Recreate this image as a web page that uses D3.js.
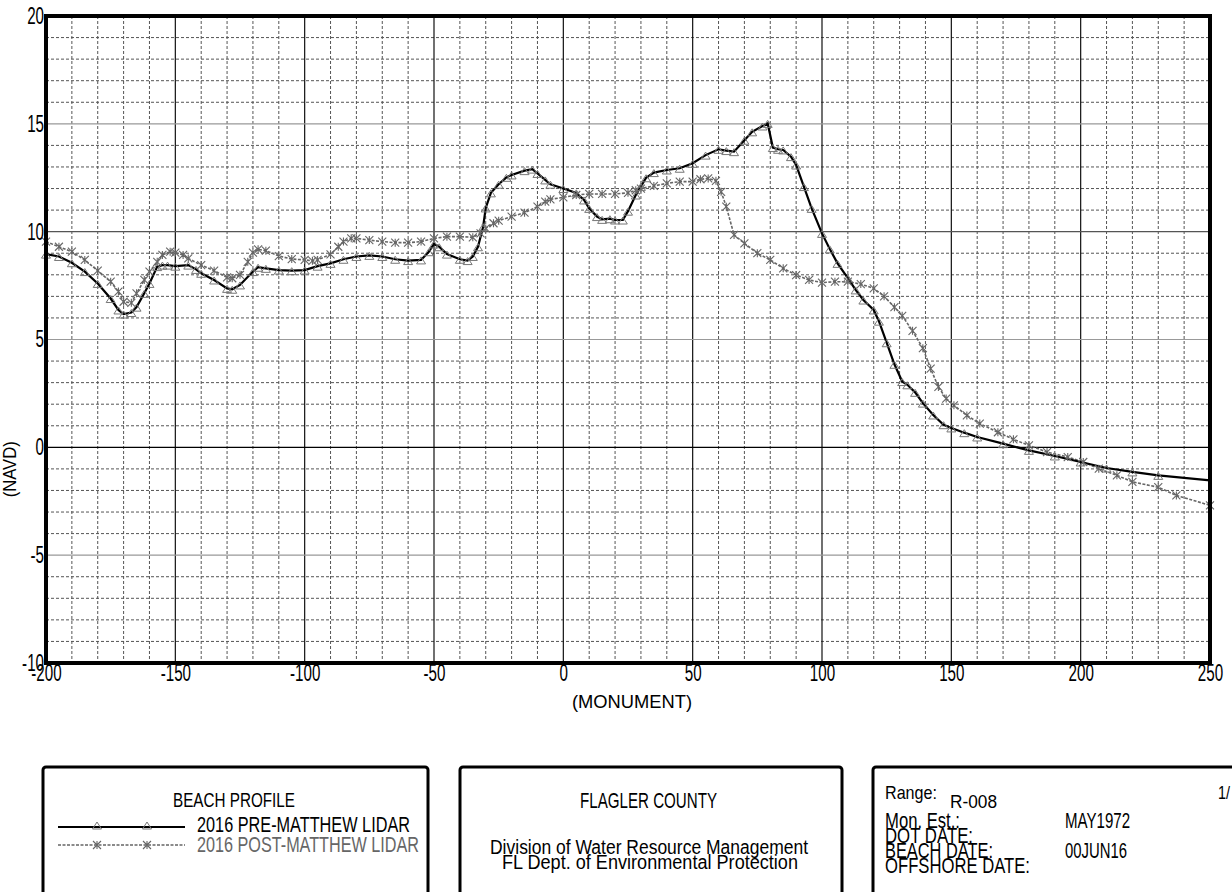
<!DOCTYPE html>
<html>
<head>
<meta charset="utf-8">
<script src="https://cdn.jsdelivr.net/npm/d3@7"></script>
<style>
  body { margin: 0; background: #fff; }
  text { font-family: "Liberation Sans", "DejaVu Sans", sans-serif; fill: #000; }
</style>
</head>
<body>
<div id="chart-area"></div>
<script>

// DATA (monument distance, elevation NAVD)
var preMatthew = [
  [-200,8.96],[-195,8.85],[-190,8.56],[-185,8.15],[-180,7.6],[-175,6.9],[-172,6.37],[-170,6.18],
  [-167,6.25],[-165,6.5],[-162,7.14],[-160,7.6],[-157,8.38],[-155,8.45],[-153,8.45],[-150,8.4],
  [-145,8.45],[-142,8.25],[-140,8.07],[-135,7.76],[-130,7.37],[-128,7.33],[-125,7.53],[-120,8.15],
  [-118,8.35],[-115,8.3],[-110,8.22],[-105,8.19],[-100,8.22],[-95,8.4],[-90,8.53],[-85,8.72],
  [-80,8.85],[-75,8.9],[-70,8.85],[-65,8.72],[-60,8.66],[-55,8.69],[-52,9.07],[-50,9.43],
  [-48,9.3],[-45,8.96],[-40,8.72],[-37,8.66],[-35,8.85],[-33,9.3],[-31,10.23],[-30,11.1],
  [-28,11.8],[-25,12.2],[-22,12.52],[-20,12.63],[-15,12.83],[-12,12.9],[-10,12.7],[-7,12.4],
  [-5,12.2],[0,12.0],[5,11.8],[8,11.47],[10,11.08],[13,10.7],[15,10.57],[18,10.6],
  [20,10.54],[23,10.54],[25,10.95],[28,11.7],[30,12.1],[32,12.5],[35,12.74],[40,12.86],
  [45,12.94],[50,13.17],[55,13.55],[60,13.82],[63,13.76],[66,13.71],[70,14.24],[73,14.63],
  [77,14.9],[79,15.02],[81,13.9],[83,13.82],[85,13.79],[88,13.48],[90,13.09],[93,12.09],
  [96,11.08],[100,9.92],[103,9.2],[106,8.53],[110,7.85],[113,7.3],[116,6.83],[120,6.37],
  [122,5.85],[125,4.85],[128,3.85],[131,3.05],[133,2.9],[136,2.55],[139,2.05],[143,1.5],
  [147,1.05],[150,0.9],[155,0.68],[160,0.48],[170,0.17],[180,-0.14],[190,-0.4],[200,-0.68],
  [210,-0.96],[220,-1.14],[230,-1.3],[240,-1.42],[250,-1.53]
];

var postMatthew = [
  [-200,9.54],[-195,9.3],[-190,9.07],[-185,8.69],[-180,8.19],[-175,7.68],[-172,7.22],[-170,6.75],
  [-167,6.7],[-165,7.14],[-162,7.76],[-160,8.15],[-157,8.6],[-155,8.92],[-152,9.07],[-150,9.03],
  [-147,8.92],[-145,8.76],[-140,8.45],[-135,8.19],[-130,7.88],[-128,7.84],[-125,8.0],[-122,8.6],
  [-120,9.03],[-118,9.18],[-115,9.12],[-110,8.87],[-105,8.73],[-100,8.69],[-97,8.65],[-95,8.69],
  [-90,8.95],[-87,9.3],[-85,9.54],[-82,9.69],[-80,9.69],[-75,9.61],[-70,9.54],[-65,9.49],
  [-60,9.49],[-55,9.54],[-50,9.69],[-45,9.77],[-40,9.77],[-35,9.74],[-32,9.92],[-30,10.15],
  [-27,10.39],[-25,10.51],[-20,10.7],[-15,10.88],[-10,11.16],[-7,11.39],[-5,11.5],[0,11.59],
  [5,11.7],[10,11.75],[15,11.75],[20,11.75],[25,11.8],[28,11.92],[30,12.0],[35,12.12],
  [40,12.24],[45,12.32],[50,12.32],[53,12.43],[56,12.47],[59,12.36],[61,11.85],[63,11.16],
  [66,9.85],[70,9.46],[75,9.0],[80,8.69],[85,8.3],[90,7.99],[95,7.76],[100,7.64],
  [105,7.68],[110,7.68],[115,7.57],[120,7.37],[124,7.0],[128,6.5],[131,6.1],[135,5.4],
  [139,4.6],[142,3.65],[145,2.8],[148,2.26],[151,1.95],[156,1.48],[161,1.1],[168,0.7],
  [174,0.37],[180,0.09],[187,-0.22],[195,-0.45],[201,-0.68],[207,-0.99],[214,-1.3],[220,-1.6],
  [230,-1.85],[237,-2.23],[250,-2.69]
];

var xTicks = [-200,-150,-100,-50,0,50,100,150,200,250];
var yTicks = [20,15,10,5,0,-5,-10];
var legendLabels = ["2016 PRE-MATTHEW LIDAR", "2016 POST-MATTHEW LIDAR"];
var infoLabels = ["Mon. Est.:", "DOT DATE:", "BEACH DATE:", "OFFSHORE DATE:"];
var infoValues = ["MAY1972", "", "00JUN16", ""];

// SVG drawing area
var margin = {top: 16, right: 22, bottom: 229, left: 46};
var width = 1232 - margin.left - margin.right,
    height = 892 - margin.top - margin.bottom;

var root = d3.select("#chart-area").append("svg")
    .attr("width", 1232)
    .attr("height", 892);

var svg = root.append("g")
    .attr("transform", "translate(" + margin.left + "," + margin.top + ")");

// squeeze text to the narrow CAD look
function fit(sel, w) {
    sel.attr("textLength", w).attr("lengthAdjust", "spacingAndGlyphs");
}

//SCALES
var x = d3.scaleLinear().domain([-200, 250]).range([0, width]);
var y = d3.scaleLinear().domain([-10, 20]).range([height, 0]);

//GRID - minor dashed
svg.append("g").selectAll("line")
    .data(d3.range(-190, 250, 10).filter(function(d){ return d % 50 !== 0; }))
    .enter().append("line")
    .attr("x1", function(d){ return x(d); }).attr("x2", function(d){ return x(d); })
    .attr("y1", 0).attr("y2", height)
    .attr("stroke", "#555").attr("stroke-width", 1).attr("stroke-dasharray", "3,2");

svg.append("g").selectAll("line")
    .data(d3.range(-9, 20, 1).filter(function(d){ return d % 5 !== 0; }))
    .enter().append("line")
    .attr("y1", function(d){ return y(d); }).attr("y2", function(d){ return y(d); })
    .attr("x1", 0).attr("x2", width)
    .attr("stroke", "#555").attr("stroke-width", 1).attr("stroke-dasharray", "3,2");

//GRID - major solid
svg.append("g").selectAll("line")
    .data(xTicks.slice(1, -1))
    .enter().append("line")
    .attr("x1", function(d){ return x(d); }).attr("x2", function(d){ return x(d); })
    .attr("y1", 0).attr("y2", height)
    .attr("stroke", "#111").attr("stroke-width", 1.2);

svg.append("g").selectAll("line")
    .data(yTicks.slice(1, -1))
    .enter().append("line")
    .attr("y1", function(d){ return y(d); }).attr("y2", function(d){ return y(d); })
    .attr("x1", 0).attr("x2", width)
    .attr("stroke", function(d){ return d === 0 ? "#000" : (d === 10 ? "#555" : "#999"); })
    .attr("stroke-width", 1.2);

//LINES
var drawLine = d3.line()
    .x(function(d){ return x(d[0]); })
    .y(function(d){ return y(d[1]); });

svg.append("path")
    .attr("d", drawLine(postMatthew))
    .attr("fill", "none")
    .attr("stroke", "#666")
    .attr("stroke-width", 1.6)
    .attr("stroke-dasharray", "3,1.5");

svg.append("path")
    .attr("d", drawLine(preMatthew))
    .attr("fill", "none")
    .attr("stroke", "#000")
    .attr("stroke-width", 2.2);

// markers
function triangle(sel) {
    sel.attr("d", "M0,-3L4.5,4L-4.5,4Z")
        .attr("fill", "none")
        .attr("stroke", "#777")
        .attr("stroke-width", 1);
}
function star(sel) {
    sel.attr("d", "M-4,-4L4,4M-4,4L4,-4M0,-4L0,4")
        .attr("fill", "none")
        .attr("stroke", "#666")
        .attr("stroke-width", 1.1);
}

svg.append("g").selectAll("path")
    .data(postMatthew)
    .enter().append("path")
    .attr("transform", function(d){ return "translate(" + x(d[0]) + "," + y(d[1]) + ")"; })
    .call(star);

svg.append("g").selectAll("path")
    .data(preMatthew.filter(function(d){ return d[0] <= 230; }))
    .enter().append("path")
    .attr("transform", function(d){ return "translate(" + x(d[0]) + "," + y(d[1]) + ")"; })
    .call(triangle);

//FRAME
svg.append("rect")
    .attr("x", 0).attr("y", 0)
    .attr("width", width).attr("height", height)
    .attr("fill", "none")
    .attr("stroke", "#000")
    .attr("stroke-width", 4);

//AXES (labels only)
var plain = function(d){ return String(d); };

var yAxis = d3.axisLeft(y).tickValues(yTicks).tickSize(0).tickPadding(3).tickFormat(plain);
var yg = svg.append("g").call(yAxis);
yg.select(".domain").remove();
yg.selectAll("text")
    .attr("font-size", 23)
    .attr("transform", "scale(0.66,1)")
    .style("font-family", null);

var xAxis = d3.axisBottom(x).tickValues(xTicks).tickSize(0).tickPadding(2).tickFormat(plain);
var xg = svg.append("g").attr("transform", "translate(0," + height + ")").call(xAxis);
xg.select(".domain").remove();
xg.selectAll("text")
    .attr("font-size", 23)
    .attr("transform", "scale(0.66,1)")
    .style("font-family", null);

svg.append("text")
    .attr("x", width / 2 + 4)
    .attr("y", height + 45)
    .attr("text-anchor", "middle")
    .attr("font-size", 19)
    .text("(MONUMENT)")
    .call(fit, 120);

svg.append("text")
    .attr("transform", "rotate(-90)")
    .attr("x", -(y(0) + 22))
    .attr("y", -30)
    .attr("text-anchor", "middle")
    .attr("font-size", 19)
    .text("(NAVD)")
    .call(fit, 56);

//TITLE BLOCK BOXES
var boxes = [[43, 385], [460, 382], [873, 380]];
root.append("g").selectAll("rect")
    .data(boxes)
    .enter().append("rect")
    .attr("x", function(d){ return d[0]; })
    .attr("y", 767)
    .attr("width", function(d){ return d[1]; })
    .attr("height", 150)
    .attr("rx", 3)
    .attr("fill", "none")
    .attr("stroke", "#000")
    .attr("stroke-width", 3);

// legend box
root.append("text").attr("x", 173).attr("y", 807)
    .attr("font-size", 21).text("BEACH PROFILE").call(fit, 122);

var legend = root.append("g");
legend.append("line").attr("x1", 58).attr("x2", 185).attr("y1", 827).attr("y2", 827)
    .attr("stroke", "#000").attr("stroke-width", 2);
legend.append("line").attr("x1", 58).attr("x2", 185).attr("y1", 845).attr("y2", 845)
    .attr("stroke", "#666").attr("stroke-width", 1.6).attr("stroke-dasharray", "3,1.5");
legend.selectAll(".lt").data([97, 147]).enter().append("path").attr("class", "lt")
    .attr("transform", function(d){ return "translate(" + d + ",825)"; }).call(triangle);
legend.selectAll(".ls").data([97, 147]).enter().append("path").attr("class", "ls")
    .attr("transform", function(d){ return "translate(" + d + ",845)"; }).call(star);
legend.selectAll(".ll").data(legendLabels).enter().append("text").attr("class", "ll")
    .attr("x", 197)
    .attr("y", function(d, i){ return 832 + i * 20; })
    .attr("font-size", 22)
    .attr("textLength", function(d, i){ return i === 0 ? 213 : 222; })
    .attr("lengthAdjust", "spacingAndGlyphs")
    .style("fill", function(d, i){ return i === 0 ? "#000" : "#666"; })
    .text(function(d){ return d; });

// county box
root.append("text").attr("x", 580).attr("y", 808)
    .attr("font-size", 22).text("FLAGLER COUNTY").call(fit, 137);
root.append("text").attr("x", 490).attr("y", 854)
    .attr("font-size", 20).text("Division of Water Resource Management").call(fit, 318);
root.append("text").attr("x", 502).attr("y", 869)
    .attr("font-size", 20).text("FL Dept. of Environmental Protection").call(fit, 296);

// info box
var labelW = [75, 88, 108, 145];
var valueW = [65, 0, 62, 0];
root.append("text").attr("x", 885).attr("y", 799).attr("font-size", 19).text("Range:").call(fit, 52);
root.append("text").attr("x", 950).attr("y", 808).attr("font-size", 18).text("R-008").call(fit, 47);
root.append("text").attr("x", 1218).attr("y", 799).attr("font-size", 19).text("1/").call(fit, 12);
root.append("g").selectAll("text")
    .data(infoLabels)
    .enter().append("text")
    .attr("x", 885)
    .attr("y", function(d, i){ return 828 + i * 15; })
    .attr("font-size", 22)
    .attr("textLength", function(d, i){ return labelW[i]; })
    .attr("lengthAdjust", "spacingAndGlyphs")
    .text(function(d){ return d; });
root.append("g").selectAll("text")
    .data(infoValues.filter(function(d){ return d !== ""; }))
    .enter().append("text")
    .attr("x", 1065)
    .attr("y", function(d, i){ return 828 + i * 30; })
    .attr("font-size", 22)
    .attr("textLength", function(d, i){ return valueW[i * 2]; })
    .attr("lengthAdjust", "spacingAndGlyphs")
    .text(function(d){ return d; });

</script>
</body>
</html>
